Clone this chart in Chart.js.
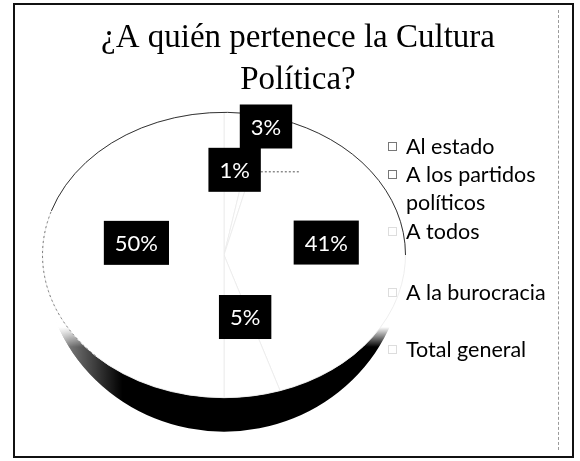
<!DOCTYPE html>
<html lang="es">
<head>
<meta charset="utf-8">
<title>¿A quién pertenece la Cultura Política?</title>
<script src="https://cdn.jsdelivr.net/npm/chart.js@4.4.1/dist/chart.umd.min.js"></script>
<style>
  html, body { margin: 0; padding: 0; background: #fff; }
  #wrap { position: relative; width: 580px; height: 461px; overflow: hidden; }
  canvas { position: absolute; left: 0; top: 0; }
  #marco { position: absolute; left: 13px; top: 3px; width: 561px; height: 455px; border: 2px solid #111; box-sizing: border-box; }
  #guia { position: absolute; left: 558px; top: 10px; height: 440px; border-left: 1px dashed #9a9a9a; }
</style>
</head>
<body>
<div id="wrap">
  <canvas id="myChartPie" width="580" height="461"></canvas>
  <div id="marco"></div>
  <div id="guia"></div>
</div>
<script>
// datos
const titulo = ['¿A quién pertenece la Cultura', 'Política?'];
const categorias = ['Al estado', 'A los partidos políticos', 'A todos', 'A la burocracia', 'Total general'];
const porcentajes = [3, 1, 41, 5, 50];

// ajustes de dibujo (perspectiva 3D simulada)
const centroY = 255;      // centro de la cara superior
const escalaY = 0.786;    // achatamiento vertical
const grosor = 34;        // grosor del borde oscuro
const etiquetaRadio = [0.93, 0.6, 0.57, 0.45, 0.49];
const etiquetaGiro = [9, -7, -7, -6, 10]; // grados
const leyendaY = [147, 175, 232, 293, 350];

// partir texto largo en varias lineas
function partirTexto(ctx, texto, maxAncho) {
  const palabras = texto.split(' ');
  const lineas = [];
  let actual = '';
  palabras.forEach(p => {
    const prueba = actual ? actual + ' ' + p : p;
    if (ctx.measureText(prueba).width > maxAncho && actual) {
      lineas.push(actual);
      actual = p;
    } else {
      actual = prueba;
    }
  });
  lineas.push(actual);
  return lineas;
}

const perspectiva = {
  id: 'perspectiva',
  beforeDatasetsDraw(chart) {
    const ctx = chart.ctx;
    const arc = chart.getDatasetMeta(0).data[0];
    const cx = arc.x, rx = arc.outerRadius, ry = arc.outerRadius * escalaY;

    // borde oscuro (lado del pastel), solo visible en la parte baja
    ctx.save();
    ctx.beginPath();
    ctx.ellipse(cx, centroY, rx, ry + grosor, 0, 0, Math.PI, false);
    ctx.ellipse(cx, centroY, rx, ry, 0, Math.PI, 0, true);
    ctx.closePath();
    ctx.clip();
    const gradV = ctx.createLinearGradient(0, centroY + 72, 0, centroY + 92);
    gradV.addColorStop(0, 'rgba(0,0,0,0)');
    gradV.addColorStop(1, '#000');
    ctx.fillStyle = gradV;
    ctx.fillRect(cx - rx - 5, centroY, 2 * rx + 10, ry + grosor + 5);
    const gradH = ctx.createLinearGradient(cx - rx, 0, cx - rx + 80, 0);
    gradH.addColorStop(0, 'rgba(255,255,255,0.9)');
    gradH.addColorStop(0.35, 'rgba(255,255,255,0.45)');
    gradH.addColorStop(1, 'rgba(255,255,255,0)');
    ctx.fillStyle = gradH;
    ctx.fillRect(cx - rx - 5, centroY, 85, ry + grosor + 5);
    ctx.restore();

    // aplastar la cara superior
    ctx.save();
    ctx.translate(cx, centroY);
    ctx.scale(1, escalaY);
    ctx.translate(-cx, -arc.y);
  },
  afterDatasetsDraw(chart) {
    const ctx = chart.ctx;
    ctx.restore();
    const meta = chart.getDatasetMeta(0);
    const arc0 = meta.data[0];
    const cx = arc0.x, rx = arc0.outerRadius, ry = arc0.outerRadius * escalaY;

    // contorno de la cara superior
    ctx.save();
    ctx.beginPath();
    ctx.ellipse(cx, centroY, rx, ry, 0, Math.PI * 1.1, 2 * Math.PI, false);
    ctx.strokeStyle = '#333';
    ctx.lineWidth = 1;
    ctx.stroke();
    ctx.beginPath();
    ctx.ellipse(cx, centroY, rx, ry, 0, Math.PI * 0.75, Math.PI * 1.1, false);
    ctx.setLineDash([2, 3]);
    ctx.strokeStyle = '#777';
    ctx.stroke();
    ctx.restore();

    // etiquetas de porcentaje
    ctx.save();
    ctx.font = '22px Lato';
    ctx.textAlign = 'center';
    ctx.textBaseline = 'middle';
    meta.data.forEach((arc, i) => {
      const p = arc.getProps(['x', 'y', 'startAngle', 'endAngle', 'outerRadius'], true);
      const ang = (p.startAngle + p.endAngle) / 2 + etiquetaGiro[i] * Math.PI / 180;
      const r = p.outerRadius * etiquetaRadio[i];
      const x = p.x + Math.cos(ang) * r;
      const y = centroY + Math.sin(ang) * r * escalaY;
      const texto = porcentajes[i] + '%';
      const w = ctx.measureText(texto).width + 22;
      const h = 44;
      if (i === 1) {
        ctx.beginPath();
        ctx.setLineDash([2, 2]);
        ctx.moveTo(x + w / 2, y + 2);
        ctx.lineTo(x + w / 2 + 38, y + 2);
        ctx.strokeStyle = '#555';
        ctx.stroke();
        ctx.setLineDash([]);
      }
      ctx.fillStyle = '#000';
      ctx.fillRect(x - w / 2, y - h / 2, w, h);
      ctx.fillStyle = '#fff';
      ctx.fillText(texto, x, y + 1);
    });
    ctx.restore();
  },
  afterDraw(chart) {
    const ctx = chart.ctx;
    ctx.save();
    // titulo
    ctx.fillStyle = '#000';
    ctx.font = '33px "Liberation Serif"';
    ctx.textAlign = 'center';
    ctx.textBaseline = 'alphabetic';
    ctx.fillText(titulo[0], 298, 47);
    ctx.fillText(titulo[1], 298, 89);

    // leyenda
    ctx.font = '21.5px Lato';
    ctx.textAlign = 'left';
    ctx.textBaseline = 'middle';
    categorias.forEach((cat, i) => {
      const lineas = partirTexto(ctx, cat, 155);
      ctx.strokeStyle = i < 2 ? '#777' : '#ddd';
      ctx.lineWidth = 1;
      ctx.strokeRect(388.5, leyendaY[i] - 4.5, 8, 8);
      ctx.fillStyle = '#000';
      lineas.forEach((l, j) => ctx.fillText(l, 406, leyendaY[i] + j * 28));
    });
    ctx.restore();
  }
};

const ctx = document.getElementById('myChartPie').getContext('2d');
new Chart(ctx, {
  type: 'pie',
  data: {
    labels: categorias,
    datasets: [{
      data: porcentajes,
      backgroundColor: '#fff',
      borderColor: '#ececec',
      borderWidth: 1
    }]
  },
  options: {
    responsive: false,
    animation: false,
    events: [],
    layout: {
      padding: { left: 42, right: 174, top: 60, bottom: 37 }
    },
    plugins: {
      legend: { display: false },
      tooltip: { enabled: false },
      title: { display: false }
    }
  },
  plugins: [perspectiva]
});
</script>
</body>
</html>
